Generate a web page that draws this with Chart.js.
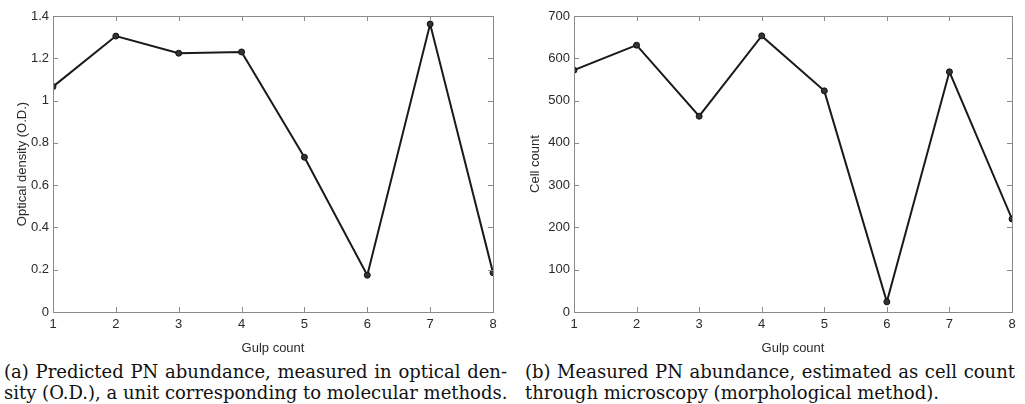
<!DOCTYPE html>
<html>
<head>
<meta charset="utf-8">
<script src="https://cdn.jsdelivr.net/npm/chart.js@4/dist/chart.umd.min.js"></script>
<style>
  html, body { margin: 0; padding: 0; background: #fff; }
  body { width: 1025px; height: 404px; position: relative; overflow: hidden; }
  .box { position: absolute; top: 0; width: 512px; height: 356px; }
  .cap { position: absolute; font-family: "DejaVu Serif", serif; font-size: 18px; color: #111; white-space: nowrap; line-height: 21px; }
  .cap .j { text-align: justify; text-align-last: justify; }
</style>
</head>
<body>
<div class="box" style="left:0"><canvas id="chartA"></canvas></div>
<div class="box" style="left:512px"><canvas id="chartB"></canvas></div>
<div class="cap" style="left:4px; top:361px; width:503px;">
  <div class="j">(a) Predicted PN abundance, measured in optical den-</div>
  <div class="j">sity (O.D.), a unit corresponding to molecular methods.</div>
</div>
<div class="cap" style="left:525px; top:361px; width:490px;">
  <div class="j">(b) Measured PN abundance, estimated as cell count</div>
  <div>through microscopy (morphological method).</div>
</div>
<script>
// Datos
const gulpCount = [1, 2, 3, 4, 5, 6, 7, 8];
const opticalDensity = [1.066, 1.305, 1.224, 1.230, 0.732, 0.174, 1.362, 0.186];
const cellCount = [572, 631, 463, 653, 523, 24, 568, 220];
const odTicks = [0, 0.2, 0.4, 0.6, 0.8, 1, 1.2, 1.4];
const cellTicks = [0, 100, 200, 300, 400, 500, 600, 700];

const ejeColor = '#8a8a8a';
const textoColor = '#2a2a2a';

// Marcas hacia dentro en los cuatro lados, estilo MATLAB
const ticksDentro = {
    id: 'ticksDentro',
    afterDraw(chart) {
        const { ctx, chartArea: a, scales } = chart;
        const len = 5;
        ctx.save();
        ctx.strokeStyle = ejeColor;
        ctx.lineWidth = 1;
        ctx.beginPath();
        scales.x.ticks.forEach((t, i) => {
            const px = Math.round(scales.x.getPixelForTick(i)) + 0.5;
            ctx.moveTo(px, a.bottom); ctx.lineTo(px, a.bottom - len);
            ctx.moveTo(px, a.top); ctx.lineTo(px, a.top + len);
        });
        scales.y.ticks.forEach((t, i) => {
            const py = Math.round(scales.y.getPixelForTick(i)) + 0.5;
            ctx.moveTo(a.left, py); ctx.lineTo(a.left + len, py);
            ctx.moveTo(a.right, py); ctx.lineTo(a.right - len, py);
        });
        ctx.stroke();
        ctx.strokeRect(Math.round(a.left) + 0.5, Math.round(a.top) + 0.5,
            Math.round(a.right - a.left), Math.round(a.bottom - a.top));
        ctx.restore();
    }
};

function crearGrafica(id, valores, ticksY, tituloY, yAncho, margenDer, margenTitulo) {
    const ctx = document.getElementById(id).getContext('2d');
    return new Chart(ctx, {
        type: 'line',
        data: {
            datasets: [{
                data: gulpCount.map((g, i) => ({ x: g, y: valores[i] })),
                borderColor: '#1a1a1a',
                borderWidth: 2,
                pointRadius: 3,
                pointBackgroundColor: '#333',
                pointBorderColor: '#111',
                pointBorderWidth: 1,
                tension: 0
            }]
        },
        options: {
            responsive: true,
            maintainAspectRatio: false,
            animation: false,
            layout: { padding: { top: 16, right: margenDer, left: 0, bottom: 0 } },
            plugins: { legend: { display: false }, tooltip: { enabled: false } },
            scales: {
                x: {
                    type: 'linear',
                    min: 1, max: 8,
                    border: { display: false },
                    grid: { display: false, drawTicks: false },
                    ticks: { stepSize: 1, padding: 5, color: textoColor, font: { family: 'Liberation Sans', size: 13 } },
                    title: { display: true, text: 'Gulp count', color: textoColor, padding: { top: 4, bottom: 0 }, font: { family: 'Liberation Sans', size: 13 } },
                    afterFit(scale) { scale.height = 44; }
                },
                y: {
                    min: ticksY[0], max: ticksY[ticksY.length - 1],
                    border: { display: false },
                    grid: { display: false, drawTicks: false },
                    afterBuildTicks(scale) { scale.ticks = ticksY.map(v => ({ value: v })); },
                    ticks: {
                        padding: 4, color: textoColor, font: { family: 'Liberation Sans', size: 13 },
                        callback: v => String(Number(v.toFixed(2)))
                    },
                    title: { display: true, text: tituloY, color: textoColor, padding: { top: margenTitulo, bottom: 0 }, font: { family: 'Liberation Sans', size: 13 } },
                    afterFit(scale) { scale.width = yAncho; }
                }
            }
        },
        plugins: [ticksDentro]
    });
}

crearGrafica('chartA', opticalDensity, odTicks, 'Optical density (O.D.)', 53, 19, 15);
crearGrafica('chartB', cellCount, cellTicks, 'Cell count', 62, 12, 16);
</script>
</body>
</html>
